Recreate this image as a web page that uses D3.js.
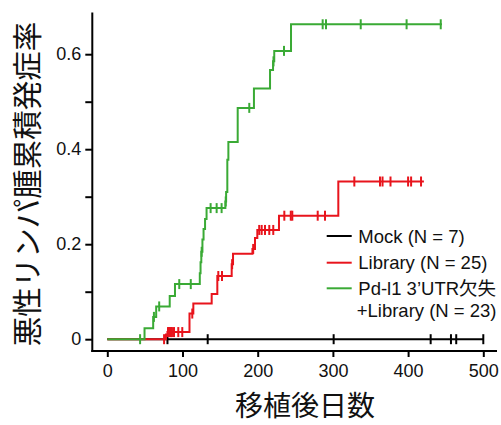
<!DOCTYPE html>
<html><head><meta charset="utf-8">
<script src="https://cdn.jsdelivr.net/npm/d3@7"></script>
<style>body{margin:0;background:#fff}svg{display:block}</style>
</head><body>
<svg id="c" width="501" height="425"></svg>
<script>
// ---- data (days, cumulative incidence) ----
const mockDays = [0, 500];
const mockVals = [0, 0];
const mockCensor = [80, 133.5, 301, 430, 457, 464, 500];

const libDays = [0, 78, 80, 109.3, 114.4, 138.8, 146.3, 165.4, 167.2, 193, 196.4, 199.5, 228.3, 307.2, 421];
const libVals = [0, 0.010, 0.015, 0.054, 0.075, 0.095, 0.133, 0.158, 0.18, 0.19, 0.213, 0.23, 0.26, 0.332, 0.332];
const libCensor = [75.5, 80.7, 82, 83.4, 85, 86, 88.7, 94.4, 99.7, 113, 147.6, 152.5, 166, 194, 202, 205.3, 209.7, 215.4, 220.7, 235.4, 244, 246, 279.8, 289.5, 328.5, 362.6, 366, 376.6, 400, 404, 417.2];

const pdDays = [0, 49.5, 61, 65, 83, 90, 123, 124, 125, 126.5, 128, 130, 132, 157, 158, 159.6, 161, 173.4, 195, 216.4, 220.4, 222, 244.3, 445];
const pdVals = [0, 0.023, 0.047, 0.069, 0.091, 0.116, 0.139, 0.162, 0.184, 0.21, 0.232, 0.253, 0.276, 0.29, 0.31, 0.378, 0.415, 0.487, 0.528, 0.567, 0.585, 0.607, 0.663, 0.663];
const pdCensor = [43.6, 62, 69, 95.7, 111, 125.5, 137.4, 145.4, 152, 157.5, 188.8, 221, 235, 286.4, 290.8, 337, 398, 443.4];

const xTicks = [0, 100, 200, 300, 400, 500];
const yTicks = [0, 0.1, 0.2, 0.3, 0.4, 0.5, 0.6];
const yLabels = {0: "0", 0.2: "0.2", 0.4: "0.4", 0.6: "0.6"};
const legendLabels = [["Mock (N = 7)"], ["Library (N = 25)"], ["Pd-l1 3’UTR欠失", "+Library (N = 23)"]];
const colors = ["#000000", "#e8141c", "#3aaa35"];
const xTitle = "移植後日数";
const yTitle = "悪性リンパ腫累積発症率";

// ---- drawing ----
const svg = d3.select("#c");
const x = d3.scaleLinear().domain([0, 500]).range([107.3, 483.3]);
const y = d3.scaleLinear().domain([0, 0.6]).range([339.2, 54.2]);
const font = "'Liberation Sans', Arial, sans-serif";
const cjk = "'Noto Sans CJK JP', sans-serif";

// axes
const yAxisX = 92.3, xAxisY = 351;
const yTop = 12.5;
const yAxis = d3.axisLeft(y).tickValues(yTicks).tickSize(7).tickFormat(d => yLabels[d] !== undefined ? yLabels[d] : "").tickPadding(4);
const gy = svg.append("g").attr("transform", `translate(${yAxisX},0)`).call(yAxis);
gy.select(".domain").remove();
gy.selectAll(".tick line").attr("stroke-width", 2);
gy.selectAll("text").attr("font-family", font).attr("font-size", 18).attr("fill", "#111");
svg.append("line").attr("x1", yAxisX).attr("x2", yAxisX).attr("y1", yTop).attr("y2", xAxisY + 1).attr("stroke", "#000").attr("stroke-width", 2);

const xAxis = d3.axisBottom(x).tickValues(xTicks).tickSize(6).tickPadding(7);
const gx = svg.append("g").attr("transform", `translate(0,${xAxisY})`).call(xAxis);
gx.select(".domain").remove();
gx.selectAll(".tick line").attr("stroke-width", 2);
gx.selectAll("text").attr("font-family", font).attr("font-size", 18).attr("fill", "#111");
svg.append("line").attr("x1", yAxisX - 1).attr("x2", 497).attr("y1", xAxisY).attr("y2", xAxisY).attr("stroke", "#000").attr("stroke-width", 2);

// curves
const series = [
  {days: mockDays, vals: mockVals, cens: mockCensor, color: colors[0]},
  {days: libDays, vals: libVals, cens: libCensor, color: colors[1]},
  {days: pdDays, vals: pdVals, cens: pdCensor, color: colors[2]}
];
const line = d3.line().x(d => x(d[0])).y(d => y(d[1])).curve(d3.curveStepAfter);
series.forEach(s => {
  const pts = s.days.map((d, i) => [d, s.vals[i]]);
  svg.append("path").attr("d", line(pts)).attr("fill", "none").attr("stroke", s.color).attr("stroke-width", 2);
  const levelAt = t => { let v = 0; for (let i = 0; i < s.days.length; i++) if (s.days[i] <= t) v = s.vals[i]; return v; };
  svg.append("g").selectAll("line").data(s.cens).join("line")
    .attr("x1", d => x(d)).attr("x2", d => x(d))
    .attr("y1", d => y(levelAt(d)) - 5).attr("y2", d => y(levelAt(d)) + 5)
    .attr("stroke", s.color).attr("stroke-width", 2);
});

// legend
const lg = svg.append("g");
const rowY = [236, 262.7, 288.3];
legendLabels.forEach((lab, i) => {
  lg.append("line").attr("x1", 326.7).attr("x2", 351.7).attr("y1", rowY[i]).attr("y2", rowY[i]).attr("stroke", colors[i]).attr("stroke-width", 2);
  lab.forEach((t, j) => {
    lg.append("text").attr("x", j === 0 ? 358.3 : 356.7).attr("y", rowY[i] + 6.5 + j * 22)
      .attr("font-family", t.match(/[\u3000-\u9fff]/) ? "'Liberation Sans', 'Noto Sans CJK JP', sans-serif" : font)
      .attr("font-size", 18.5).attr("fill", "#111").text(t);
  });
});

// titles
svg.append("text").attr("x", 305).attr("y", 416).attr("text-anchor", "middle")
  .attr("font-family", cjk).attr("font-size", 28).attr("fill", "#111").text(xTitle);
svg.append("text").attr("transform", "translate(25,184) rotate(-90)").attr("text-anchor", "middle").attr("dominant-baseline", "central")
  .attr("font-family", cjk).attr("font-size", 29.5).attr("fill", "#111").text(yTitle);
</script>
</body></html>
